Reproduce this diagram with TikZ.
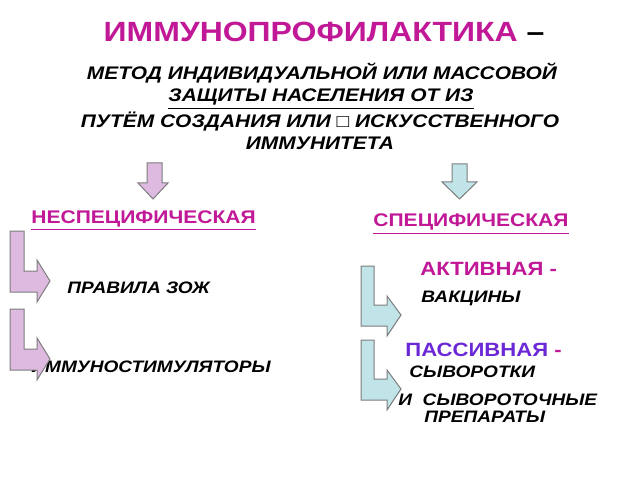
\documentclass[tikz,border=0pt]{standalone}
\usepackage{fontspec}
\setmainfont[FakeStretch=1.15]{Liberation Sans}
\definecolor{magentaPP}{RGB}{192,24,150}
\definecolor{violetPP}{RGB}{108,40,214}
\definecolor{pinkfill}{RGB}{222,186,224}
\definecolor{cyanfill}{RGB}{192,228,232}
\definecolor{arrowline}{RGB}{125,125,125}

\begin{document}
\begin{tikzpicture}[x=0.5pt,y=-0.5pt,
    headline/.style={font=\fontsize{13.9}{16}\selectfont\bfseries, inner sep=0pt, anchor=base},
    defline/.style={font=\fontsize{9.1}{11}\selectfont\bfseries\itshape, inner sep=0pt, anchor=base},
    kindlabel/.style={font=\fontsize{9.15}{11}\selectfont\bfseries, text=magentaPP, anchor=base west, inner sep=0pt},
    waylabel/.style={font=\fontsize{9.6}{11}\selectfont\bfseries, anchor=base west, inner sep=0pt},
    itemlabel/.style={font=\fontsize{8.3}{10}\selectfont\bfseries\itshape, anchor=base west, inner sep=0pt},
    pinkarrow/.style={fill=pinkfill, draw=arrowline, line width=0.5pt},
    cyanarrow/.style={fill=cyanfill, draw=arrowline, line width=0.5pt}]

\fill[white] (0,0) rectangle (640,480);
\useasboundingbox (0,0) rectangle (640,480);

% title and definition
\node[headline] (title) at (324,42) {{\color{magentaPP}ИММУНОПРОФИЛАКТИКА} –};
\node[defline] (def1) at (322,80) {МЕТОД ИНДИВИДУАЛЬНОЙ ИЛИ МАССОВОЙ};
\node[defline] (def2) at (321,102) {\underline{ЗАЩИТЫ НАСЕЛЕНИЯ ОТ ИЗ}};
\node[defline] (def3) at (320,128) {ПУТЁМ СОЗДАНИЯ ИЛИ □ ИСКУССТВЕННОГО};
\node[defline] (def4) at (320,150) {ИММУНИТЕТА};

% down arrows
\draw[pinkarrow] (147,163) -- (162,163) -- (162,183) -- (168,183) -- (153,199)
    -- (138,183) -- (147,183) -- cycle;
\draw[cyanarrow] (452,164) -- (467,164) -- (467,182) -- (477,182) -- (459.5,199)
    -- (442,182) -- (452,182) -- cycle;

% left column
\node[kindlabel] (nonspec) at (31,223) {\underline{НЕСПЕЦИФИЧЕСКАЯ}};
\node[itemlabel] (zozh) at (67,293) {ПРАВИЛА ЗОЖ};
\node[itemlabel] (stim) at (31,372) {ИММУНОСТИМУЛЯТОРЫ};

\foreach \t in {0,78}
{
    \draw[pinkarrow, shift={(0,\t)}] (10,231) -- (24,231) -- (24,271) -- (37,271)
        -- (37,260) -- (50,281) -- (37,302) -- (37,292) -- (10,292) -- cycle;
}

% right column
\foreach \t in {0,74}
{
    \draw[cyanarrow, shift={(0,\t)}] (361,266) -- (374,266) -- (374,305) -- (387,305)
        -- (387,296) -- (401,315) -- (387,336) -- (387,326) -- (361,326) -- cycle;
}

\node[kindlabel] (spec) at (373,227) {\underline{СПЕЦИФИЧЕСКАЯ}};
\node[waylabel] (active) at (420,275) {{\color{magentaPP}АКТИВНАЯ -}};
\node[itemlabel] (vacc) at (421,302) {ВАКЦИНЫ};
\node[waylabel] (passive) at (405,356) {{\color{violetPP}ПАССИВНАЯ} {\color{magentaPP}-}};
\node[itemlabel] (serum) at (409,377) {СЫВОРОТКИ};
\node[itemlabel] (prep1) at (398,405) {И\ \ СЫВОРОТОЧНЫЕ};
\node[itemlabel] (prep2) at (424,422) {ПРЕПАРАТЫ};

\end{tikzpicture}
\end{document}
